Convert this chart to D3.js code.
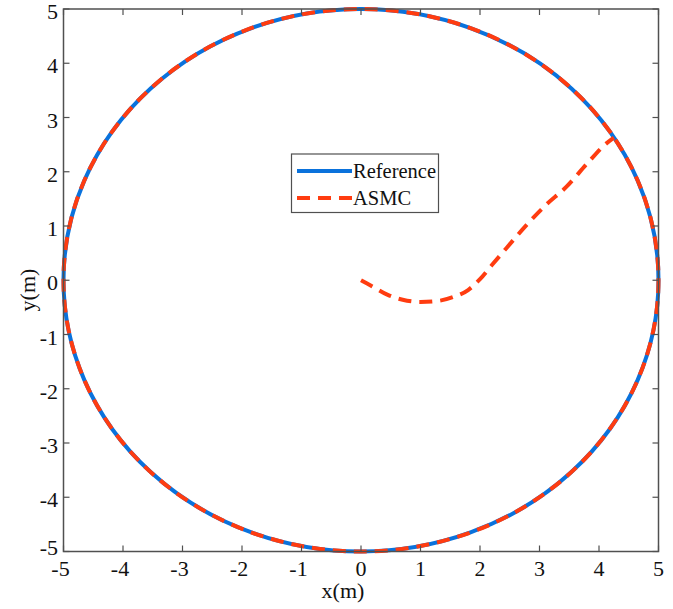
<!DOCTYPE html>
<html><head><meta charset="utf-8">
<script src="https://cdn.jsdelivr.net/npm/d3@7"></script>
<style>body{margin:0;background:#fff}svg{display:block}text{font-family:"Liberation Serif","Times New Roman",serif;fill:#111}</style>
</head><body>
<script>
const xTicks = [-5,-4,-3,-2,-1,0,1,2,3,4,5];
const yTicks = [-5,-4,-3,-2,-1,0,1,2,3,4,5];
const refCenter = [0, 0];
const refRadius = 5;
// ASMC approach path
const asmcX = [0, 0.2, 0.45, 0.7, 1.0, 1.3, 1.55, 1.8, 2.0, 2.2, 2.45, 2.8, 3.1, 3.45, 3.8, 4.1, 4.25];
const asmcY = [0, -0.12, -0.27, -0.36, -0.40, -0.38, -0.31, -0.18, 0.02, 0.28, 0.60, 1.04, 1.38, 1.72, 2.15, 2.50, 2.63];
const legendLabels = ["Reference", "ASMC"];

const W = 673, H = 609;
const svg = d3.select("body").append("svg").attr("width", W).attr("height", H);
const x = d3.scaleLinear().domain([-5,5]).range([63.5, 658.5]);
const y = d3.scaleLinear().domain([-5,5]).range([551.5, 9]);
const blue = "#0a72dc", red = "#ff3c10", axisCol = "#505050";

const g = svg.append("g");
g.append("ellipse")
  .attr("cx", x(refCenter[0])).attr("cy", y(refCenter[1]))
  .attr("rx", x(refRadius) - x(0)).attr("ry", y(0) - y(refRadius))
  .attr("fill","none").attr("stroke", blue).attr("stroke-width", 4);
g.append("ellipse")
  .attr("cx", x(refCenter[0])).attr("cy", y(refCenter[1]))
  .attr("rx", x(refRadius) - x(0)).attr("ry", y(0) - y(refRadius))
  .attr("fill","none").attr("stroke", red).attr("stroke-width", 4)
  .attr("stroke-dasharray","13 8");
const line = d3.line().x(d=>x(d[0])).y(d=>y(d[1])).curve(d3.curveMonotoneX);
g.append("path").datum(asmcX.map((v,i)=>[v, asmcY[i]]))
  .attr("d", line).attr("fill","none").attr("stroke", red).attr("stroke-width", 4)
  .attr("stroke-dasharray","13 8");

const ax = svg.append("g");
ax.append("rect").attr("x", x(-5)).attr("y", y(5)).attr("width", x(5)-x(-5)).attr("height", y(-5)-y(5))
  .attr("fill","none").attr("stroke", axisCol).attr("stroke-width", 1.5);
const tl = 6;
xTicks.forEach(t => {
  ax.append("line").attr("x1", x(t)).attr("x2", x(t)).attr("y1", y(-5)).attr("y2", y(-5)-tl).attr("stroke", axisCol).attr("stroke-width",1.2);
  ax.append("line").attr("x1", x(t)).attr("x2", x(t)).attr("y1", y(5)).attr("y2", y(5)+tl).attr("stroke", axisCol).attr("stroke-width",1.2);
  ax.append("text").attr("x", x(t) - (t<0?3:0)).attr("y", 576).attr("text-anchor","middle").attr("font-size", 22).text(t);
});
yTicks.forEach(t => {
  ax.append("line").attr("y1", y(t)).attr("y2", y(t)).attr("x1", x(-5)).attr("x2", x(-5)+tl).attr("stroke", axisCol).attr("stroke-width",1.2);
  ax.append("line").attr("y1", y(t)).attr("y2", y(t)).attr("x1", x(5)).attr("x2", x(5)-tl).attr("stroke", axisCol).attr("stroke-width",1.2);
  const by = t === -5 ? 555 : y(t) + 10;
  ax.append("text").attr("x", 58).attr("y", by).attr("text-anchor","end").attr("font-size", 22).text(t);
});
svg.append("text").attr("x", 343).attr("y", 598).attr("text-anchor","middle").attr("font-size", 22).text("x(m)");
svg.append("text").attr("transform","translate(35,290) rotate(-90)").attr("text-anchor","middle").attr("font-size", 22).text("y(m)");

const lg = svg.append("g");
lg.append("rect").attr("x", 291.5).attr("y", 154).attr("width", 147).attr("height", 58.5)
  .attr("fill","#fff").attr("stroke", axisCol).attr("stroke-width", 1.2);
const ly = [171, 198];
lg.append("line").attr("x1", 297).attr("x2", 352).attr("y1", ly[0]).attr("y2", ly[0]).attr("stroke", blue).attr("stroke-width", 4);
lg.append("line").attr("x1", 297).attr("x2", 352).attr("y1", ly[1]).attr("y2", ly[1]).attr("stroke", red).attr("stroke-width", 4).attr("stroke-dasharray","13 8");
legendLabels.forEach((s,i) => lg.append("text").attr("x", 353).attr("y", ly[i] + 7).attr("font-size", 20.5).text(s));
</script>
</body></html>
